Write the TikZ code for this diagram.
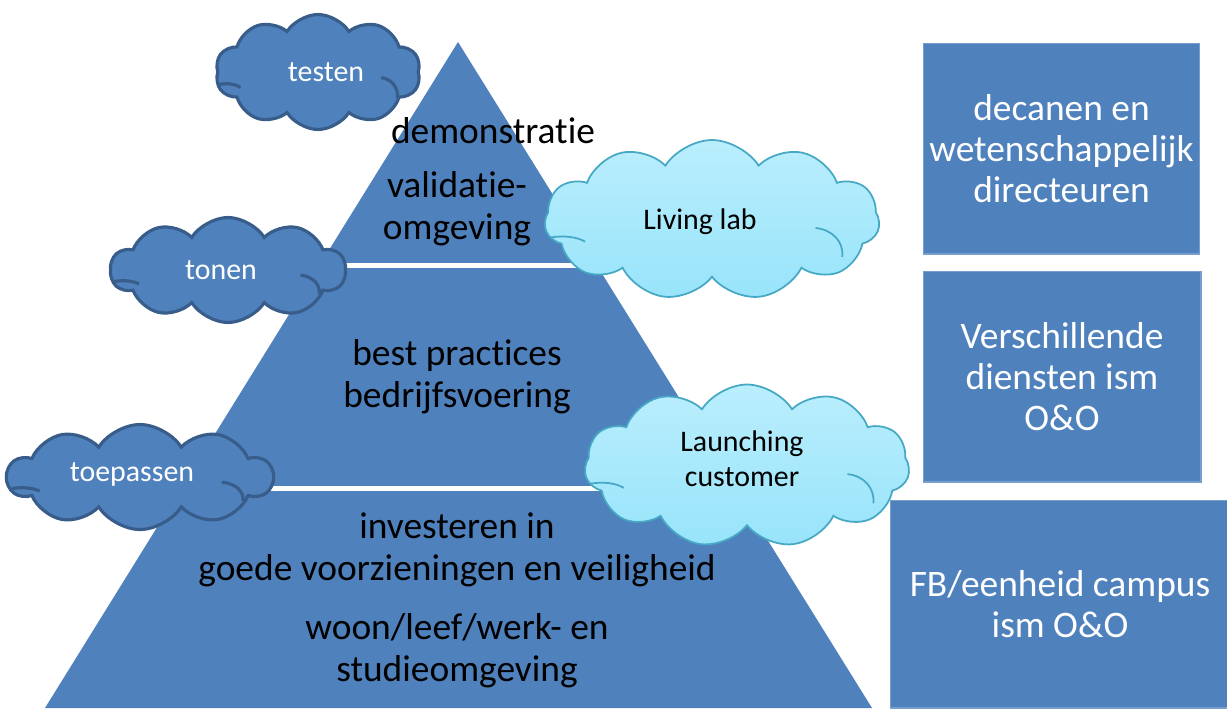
\documentclass[tikz,border=0pt]{standalone}
\usepackage{fontspec}
\setmainfont{Carlito}[Ligatures=NoCommon]
\usetikzlibrary{shapes.symbols,positioning,calc}
\definecolor{tier}{RGB}{79,129,189}
\definecolor{tierline}{RGB}{56,93,138}
\definecolor{skytop}{RGB}{186,238,253}
\definecolor{skybot}{RGB}{152,228,250}
\definecolor{skyline}{RGB}{70,168,196}
\definecolor{boxline}{RGB}{120,158,205}

% inner creases of a cloud: name, half width, half height, colour, line width
\newcommand\cloudcreases[5]{%
  \begin{scope}[shift={(#1.center)}, xscale=#2, yscale=#3, draw=#4, line width=#5]
    \draw (-0.97,0.22) .. controls (-0.89,0.19) and (-0.81,0.21) .. (-0.76,0.27);
    \draw (0.62,0.1) .. controls (0.72,0.12) and (0.79,0.27) .. (0.78,0.46);
  \end{scope}}

\tikzset{
  darkcloud/.style={cloud, cloud puffs=10, cloud puff arc=115, cloud ignores aspect,
    draw=tierline, line width=1.8pt, fill=tier, inner sep=0pt},
  lightcloud/.style={cloud, cloud puffs=11, cloud puff arc=115, cloud ignores aspect,
    draw=skyline, line width=1pt, top color=skytop, bottom color=skybot, inner sep=0pt},
  cloudtext/.style={font=\fontsize{17}{20}\selectfont, align=center, inner sep=0pt},
  tiertext/.style={font=\fontsize{21.3}{24}\selectfont, align=center, inner sep=0pt},
  rolebox/.style={draw=boxline, line width=0.6pt, fill=tier, text=white,
    font=\fontsize{21.3}{23.3}\selectfont, align=center},
  tierline/.style={white, line width=2.8pt}
}

\begin{document}
\begin{tikzpicture}[x=0.02cm,y=-0.02cm]
  \useasboundingbox (0,0) rectangle (1227,708);
  % pyramid
  \coordinate (apex) at (458,42);
  \coordinate (baseL) at (45,708);
  \coordinate (baseR) at (872,708);
  \fill[tier] (apex) -- (baseR) -- (baseL) -- cycle;
  \coordinate (cutAL) at ($(apex)!0.335!(baseL)$);
  \coordinate (cutAR) at ($(apex)!0.335!(baseR)$);
  \coordinate (cutBL) at ($(apex)!0.671!(baseL)$);
  \coordinate (cutBR) at ($(apex)!0.671!(baseR)$);
  \draw[tierline] (cutAL) -- (cutAR);
  \draw[tierline] (cutBL) -- (cutBR);
  % clouds
  \node[darkcloud, minimum width=4.1cm, minimum height=2.3cm] (testen) at (318,72) {};
  \node[darkcloud, minimum width=4.7cm, minimum height=2.1cm] (tonen) at (228,270) {};
  \node[darkcloud, minimum width=5.3cm, minimum height=2.1cm] (toepassen) at (140,477) {};
  \node[lightcloud, minimum width=6.7cm, minimum height=3.2cm] (livinglab) at (712,220) {};
  \node[lightcloud, minimum width=6.5cm, minimum height=3.26cm] (launching) at (747,466) {};
  \cloudcreases{testen}{102}{57}{tierline}{1.8pt}
  \cloudcreases{tonen}{117}{52}{tierline}{1.8pt}
  \cloudcreases{toepassen}{132}{52}{tierline}{1.8pt}
  \cloudcreases{livinglab}{167}{80}{skyline}{1pt}
  \cloudcreases{launching}{162}{81}{skyline}{1pt}
  \node[cloudtext, text=white] (testenText) at (326,72) {testen};
  \node[cloudtext, text=white] (tonenText) at (221,270) {tonen};
  \node[cloudtext, text=white] (toepassenText) at (132,474) {toepassen};
  \node[cloudtext] (livinglabText) at (700,222) {Living lab};
  \node[cloudtext] (launchingText) at (742,459) {Launching\\customer};
  % tier labels
  \node[tiertext] (demo) at (493,131) {demonstratie};
  \node[tiertext] (valid) at (457,209) {validatie-\\omgeving};
  \node[tiertext] (best) at (457,377) {best practices\\bedrijfsvoering};
  \node[tiertext] (invest) at (457,550) {investeren in\\goede voorzieningen en veiligheid};
  \node[tiertext] (woon) at (457,651) {woon/leef/werk- en\\studieomgeving};
  % roles
  \node[rolebox, minimum width=5.46cm, minimum height=4.22cm] (deans) at (1061.5,148.5)
    {decanen en\\wetenschappelijk\\directeuren};
  \node[rolebox, minimum width=5.56cm, minimum height=4.22cm] (services) at (1062,376.5)
    {Verschillende\\diensten ism\\O\&O};
  \node[rolebox, minimum width=6.8cm, minimum height=4.16cm] (campus) at (1060,604)
    {FB/eenheid campus\\ism O\&O};
\end{tikzpicture}
\end{document}
